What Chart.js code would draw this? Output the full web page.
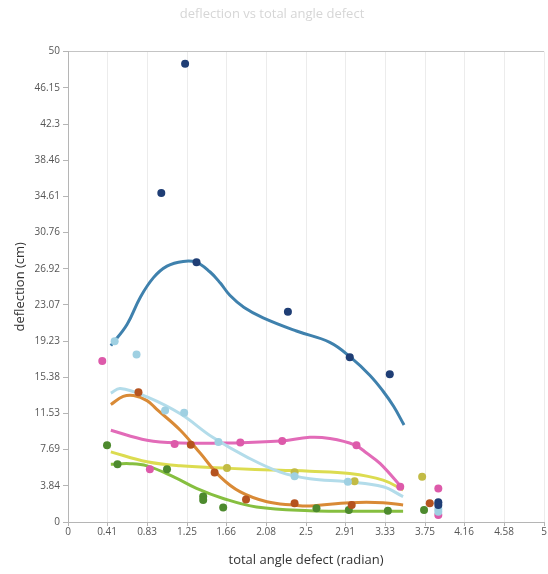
<!DOCTYPE html>
<html>
<head>
<meta charset="utf-8">
<script src="https://cdn.jsdelivr.net/npm/chart.js@4"></script>
<style>
    body { margin: 0; background: #fff; }
    #wrap { width: 548px; height: 574px; }
</style>
</head>
<body>
<div id="wrap"><canvas id="myChart"></canvas></div>
<script>
// tick labels as printed on the axes
const xTicks = ['0', '0.41', '0.83', '1.25', '1.66', '2.08', '2.5', '2.91', '3.33', '3.75', '4.16', '4.58', '5'];
const yTicks = ['0', '3.84', '7.69', '11.53', '15.38', '19.23', '23.07', '26.92', '30.76', '34.61', '38.46', '42.3', '46.15', '50'];

// measured points
const navyX = [0.98, 1.23, 1.35, 2.31, 2.96, 3.38, 3.89, 3.89];
const navyY = [34.96, 48.7, 27.6, 22.35, 17.5, 15.7, 2.1, 1.8];
const lightX = [0.49, 0.72, 1.02, 1.22, 1.58, 2.38, 2.94, 3.89, 3.89];
const lightY = [19.2, 17.8, 11.86, 11.6, 8.5, 4.87, 4.27, 1.37, 1.1];
const pinkX = [0.36, 0.86, 1.12, 1.81, 2.25, 3.03, 3.49, 3.89, 3.89];
const pinkY = [17.1, 5.6, 8.3, 8.45, 8.6, 8.16, 3.74, 3.57, 0.74];
const orangeX = [0.74, 1.29, 1.54, 1.87, 2.38, 2.98, 3.80];
const orangeY = [13.8, 8.2, 5.26, 2.4, 1.98, 1.8, 1.98];
const yellowX = [1.67, 2.38, 3.01, 3.72];
const yellowY = [5.75, 5.3, 4.34, 4.8];
const greenX = [0.41, 0.52, 1.04, 1.42, 1.42, 1.63, 2.61, 2.95, 3.36, 3.74];
const greenY = [8.15, 6.14, 5.6, 2.7, 2.33, 1.55, 1.45, 1.27, 1.2, 1.27];

// trend curves
const navyFitX = [0.45, 0.62, 0.76, 0.90, 1.04, 1.21, 1.35, 1.49, 1.60, 1.70, 1.85, 2.05, 2.40, 2.75, 2.97, 3.17, 3.31, 3.42, 3.53];
const navyFitY = [18.75, 21.0, 23.9, 26.0, 27.2, 27.7, 27.6, 26.6, 25.4, 24.1, 22.8, 21.7, 20.3, 19.1, 17.5, 15.6, 13.9, 12.3, 10.3];
const lightFitX = [0.45, 0.55, 0.83, 1.18, 1.52, 1.88, 2.23, 2.54, 2.93, 3.31, 3.52];
const lightFitY = [13.7, 14.2, 13.3, 11.5, 9.0, 6.9, 5.3, 4.6, 4.27, 3.74, 2.7];
const pinkFitX = [0.45, 0.83, 1.18, 1.70, 2.23, 2.54, 2.75, 3.01, 3.14, 3.28, 3.52];
const pinkFitY = [9.75, 8.7, 8.4, 8.4, 8.6, 9.0, 8.87, 8.2, 7.3, 6.2, 3.5];
const orangeFitX = [0.45, 0.58, 0.69, 0.83, 0.93, 1.18, 1.39, 1.60, 1.81, 2.09, 2.37, 2.54, 2.96, 3.31, 3.52];
const orangeFitY = [12.5, 13.35, 13.45, 12.9, 12.0, 9.75, 7.3, 4.8, 3.2, 2.15, 1.8, 1.7, 2.05, 2.05, 1.8];
const yellowFitX = [0.45, 0.83, 1.18, 1.70, 2.23, 2.54, 2.96, 3.31, 3.52];
const yellowFitY = [7.45, 6.4, 5.97, 5.7, 5.5, 5.4, 5.15, 4.45, 3.4];
const greenFitX = [0.45, 0.65, 0.83, 1.11, 1.35, 1.63, 1.98, 2.54, 3.0, 3.52];
const greenFitY = [6.14, 6.2, 5.97, 4.8, 3.57, 2.5, 1.6, 1.2, 1.15, 1.15];

function pts(xs, ys) {
    return xs.map((x, i) => ({x: x, y: ys[i]}));
}

function dots(xs, ys, color) {
    return {
        data: pts(xs, ys),
        backgroundColor: color,
        borderWidth: 0,
        pointRadius: 4,
        showLine: false,
        order: 0
    };
}

function curve(xs, ys, color) {
    return {
        data: pts(xs, ys),
        borderColor: color,
        borderWidth: 3,
        pointRadius: 0,
        showLine: true,
        tension: 0.4,
        order: 1
    };
}

const font = "'Open Sans', 'Noto Sans', sans-serif";

new Chart(document.getElementById('myChart'), {
    type: 'scatter',
    data: {
        datasets: [
            dots(navyX, navyY, '#1f3e75'),
            dots(lightX, lightY, '#9fd0e2'),
            dots(pinkX, pinkY, '#dd5aaa'),
            dots(orangeX, orangeY, '#b5531f'),
            dots(yellowX, yellowY, '#c2bb45'),
            dots(greenX, greenY, '#4d8a2e'),
            curve(navyFitX, navyFitY, '#3f81ad'),
            curve(lightFitX, lightFitY, '#b3dcea'),
            curve(pinkFitX, pinkFitY, '#e26bb8'),
            curve(orangeFitX, orangeFitY, '#d98a36'),
            curve(yellowFitX, yellowFitY, '#dcdc50'),
            curve(greenFitX, greenFitY, '#86bf40')
        ]
    },
    options: {
        responsive: true,
        maintainAspectRatio: false,
        animation: false,
        layout: {padding: {left: 0, right: 4, top: 0, bottom: 0}},
        plugins: {
            legend: {display: false},
            tooltip: {enabled: false},
            title: {
                display: true,
                text: 'deflection vs total angle defect',
                color: '#d6d6d6',
                font: {family: font, size: 13, weight: 'normal'},
                padding: {top: 6, bottom: 30}
            }
        },
        scales: {
            x: {
                type: 'linear',
                min: 0,
                max: 5,
                afterBuildTicks: axis => {
                    axis.ticks = xTicks.map(t => ({value: parseFloat(t)}));
                },
                afterFit: axis => {
                    axis.height = 52;
                },
                ticks: {
                    color: '#555',
                    font: {family: font, size: 10},
                    padding: 0,
                    maxRotation: 0,
                    callback: (value, index) => xTicks[index]
                },
                grid: {color: '#ececec', tickColor: '#b5b5b5', tickLength: 4},
                border: {color: '#b5b5b5'},
                title: {
                    display: true,
                    text: 'total angle defect (radian)',
                    color: '#333',
                    font: {family: font, size: 13},
                    padding: {bottom: 6}
                }
            },
            y: {
                type: 'linear',
                min: 0,
                max: 50,
                afterBuildTicks: axis => {
                    axis.ticks = yTicks.map(t => ({value: parseFloat(t)}));
                },
                afterFit: axis => {
                    axis.width = 68;
                },
                ticks: {
                    color: '#555',
                    font: {family: font, size: 10},
                    padding: 3,
                    callback: (value, index) => yTicks[index]
                },
                grid: {
                    color: ctx => ctx.tick && ctx.tick.value === 50 ? '#c4c4c4' : 'rgba(0,0,0,0)',
                    tickColor: '#b5b5b5',
                    tickLength: 5
                },
                border: {color: '#b5b5b5'},
                title: {
                    display: true,
                    text: 'deflection (cm)',
                    color: '#333',
                    font: {family: font, size: 13},
                    padding: {top: 12}
                }
            }
        }
    }
});
</script>
</body>
</html>
